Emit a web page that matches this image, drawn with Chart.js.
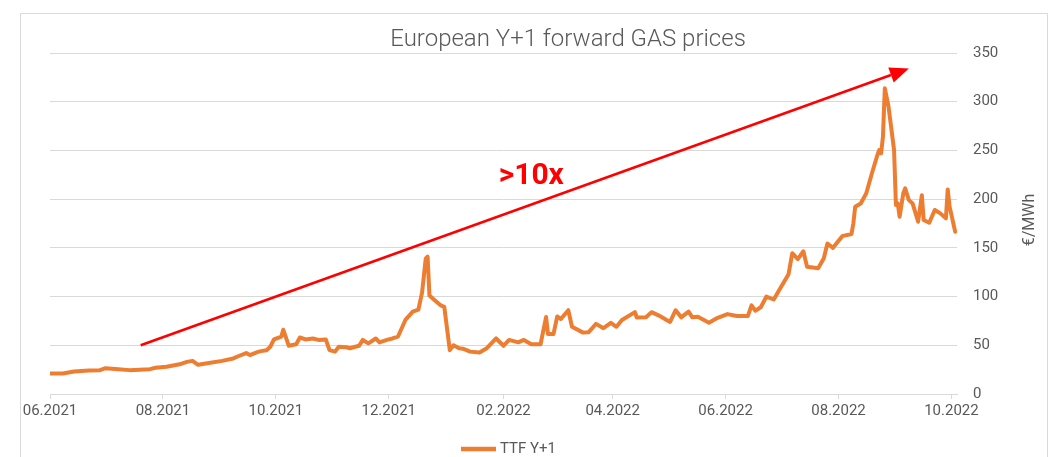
<!DOCTYPE html>
<html><head><meta charset="utf-8">
<script src="https://cdn.jsdelivr.net/npm/chart.js@4/dist/chart.umd.min.js"></script>
<style>html,body{margin:0;padding:0;background:#fff}canvas{display:block}</style>
</head><body>
<canvas id="c" width="1053" height="457"></canvas>
<script>
const chartTitle = 'European Y+1 forward GAS prices';
const seriesLabel = 'TTF Y+1';
const yAxisTitle = '€/MWh';
const annotationText = '>10x';

const dates = [
'2021-06-01','2021-06-08','2021-06-14','2021-06-22','2021-06-28','2021-07-01','2021-07-08','2021-07-14','2021-07-25','2021-07-28',
'2021-08-03','2021-08-10','2021-08-14','2021-08-17','2021-08-20','2021-08-25','2021-09-02','2021-09-08','2021-09-11','2021-09-15',
'2021-09-17','2021-09-21','2021-09-23','2021-09-26','2021-09-28','2021-09-30','2021-10-04','2021-10-05','2021-10-07','2021-10-08',
'2021-10-12','2021-10-14','2021-10-17','2021-10-21','2021-10-24','2021-10-28','2021-10-30','2021-11-02','2021-11-04','2021-11-08',
'2021-11-10','2021-11-15','2021-11-17','2021-11-20','2021-11-24','2021-11-26','2021-11-30','2021-12-03','2021-12-06','2021-12-08',
'2021-12-10','2021-12-14','2021-12-17','2021-12-19','2021-12-21','2021-12-22','2021-12-23','2021-12-26','2021-12-29','2021-12-31',
'2022-01-03','2022-01-05','2022-01-08','2022-01-10','2022-01-14','2022-01-19','2022-01-23','2022-01-28','2022-02-01','2022-02-04',
'2022-02-09','2022-02-12','2022-02-16','2022-02-21','2022-02-24','2022-02-25','2022-02-28','2022-03-02','2022-03-04','2022-03-08',
'2022-03-10','2022-03-16','2022-03-19','2022-03-23','2022-03-27','2022-03-31','2022-04-03','2022-04-06','2022-04-13','2022-04-14',
'2022-04-19','2022-04-22','2022-04-26','2022-05-01','2022-05-02','2022-05-05','2022-05-08','2022-05-12','2022-05-14','2022-05-17',
'2022-05-23','2022-05-27','2022-06-02','2022-06-07','2022-06-13','2022-06-15','2022-06-17','2022-06-20','2022-06-23','2022-06-27',
'2022-07-01','2022-07-05','2022-07-07','2022-07-10','2022-07-13','2022-07-15','2022-07-21','2022-07-24','2022-07-26','2022-07-29',
'2022-08-03','2022-08-08','2022-08-09','2022-08-10','2022-08-13','2022-08-16','2022-08-19','2022-08-22','2022-08-23','2022-08-24',
'2022-08-25','2022-08-26','2022-08-28','2022-08-31','2022-09-01','2022-09-02','2022-09-03','2022-09-05','2022-09-06','2022-09-08',
'2022-09-10','2022-09-13','2022-09-15','2022-09-16','2022-09-19','2022-09-22','2022-09-25','2022-09-28','2022-09-29','2022-09-30',
'2022-10-03'
];
const prices = [
21,21,23,24,24.5,26.5,25.5,24.5,25.5,27,
28,30.5,33,34,30,31.5,34,36.5,39,42,
40,43,44,45,48.5,56,59,66,55,49.5,
51,58,56,57,55.5,56,45,43.5,48.5,48,
47,49.5,55.5,52,57,53,55.5,57,59,67.5,
76,84.5,86.5,104,139,141,101,96,91,89.5,
45,50,47,46.5,43.5,42.5,47,57,49.5,55.5,
53,55.5,51,51,79,61.5,61.5,79.5,77,86,
69,63,63.5,72,67.5,73,69,76,84,78.5,
78.7,84,80.5,75,74,86,78.7,84.5,78.7,79.3,
73.2,77.6,82,80,80,91,85.5,89,100,97,
110,123,144.5,138.5,146.5,130.5,129,139,154.5,150,
162,164.2,175,192.3,195.6,206,226.4,245.3,250.4,247,
264,313.8,295,250.4,194,195.6,182,206,211,199,
195.6,176.8,204,178.6,175.8,188.9,185.4,180.3,210,192.3,
166.6
];
const tickDates = ['2021-06-01','2021-08-01','2021-10-01','2021-12-01','2022-02-01','2022-04-01','2022-06-01','2022-08-01','2022-10-01'];
const tickLabels = ['06.2021','08.2021','10.2021','12.2021','02.2022','04.2022','06.2022','08.2022','10.2022'];
const axisStartDate = '2021-06-01';
const axisEndDate = '2022-10-04';
const yMin = 0, yMax = 350, yStep = 50;

const arrowStart = ['2021-07-20', 50];
const arrowEnd = ['2022-09-08', 334];
const annotationAt = ['2022-02-16', 223];

const FONT = "Roboto, 'DejaVu Sans', sans-serif";
const ORANGE = '#ED7D31';
const GREY_TEXT = '#595959';
const GRID = '#d9d9d9';

const origin = (() => { const [y,m,d] = axisStartDate.split('-').map(Number); return Date.UTC(y,m-1,d); })();
function dayOf(s){ const [y,m,d] = s.split('-').map(Number); return Math.round((Date.UTC(y,m-1,d)-origin)/86400000); }

const points = dates.map((d,i) => ({x: dayOf(d), y: prices[i]}));

const overlay = {
  id: 'overlay',
  beforeDraw(chart){
    const c = chart.ctx; c.save(); c.fillStyle = '#fff'; c.fillRect(0,0,chart.width,chart.height); c.restore();
  },
  afterDraw(chart){
    const ctx = chart.ctx, xs = chart.scales.x, ys = chart.scales.y;
    ctx.save();
    // frame
    ctx.strokeStyle = GRID; ctx.lineWidth = 1;
    ctx.beginPath(); ctx.moveTo(20.5, chart.height); ctx.lineTo(20.5, 13.5); ctx.lineTo(1047.5, 13.5); ctx.lineTo(1047.5, chart.height); ctx.stroke();
    // title
    ctx.fillStyle = GREY_TEXT; ctx.font = '300 24px ' + FONT; ctx.textAlign = 'center'; ctx.textBaseline = 'alphabetic';
    ctx.fillText(chartTitle, 568, 46);
    // y axis title (rotated)
    ctx.save(); ctx.translate(1030, 220); ctx.rotate(-Math.PI/2);
    ctx.font = '16px ' + FONT; ctx.textAlign = 'center'; ctx.textBaseline = 'middle'; ctx.fillStyle = GREY_TEXT;
    ctx.fillText(yAxisTitle, 0, 0); ctx.restore();
    // legend
    const ds = chart.data.datasets[0];
    ctx.strokeStyle = ds.borderColor; ctx.lineWidth = 4.5; ctx.lineCap = 'butt';
    ctx.beginPath(); ctx.moveTo(461, 449); ctx.lineTo(496, 449); ctx.stroke();
    ctx.font = '15px ' + FONT; ctx.textAlign = 'left'; ctx.textBaseline = 'middle'; ctx.fillStyle = GREY_TEXT;
    ctx.fillText(ds.label, 500, 449);
    // arrow
    const x1 = xs.getPixelForValue(dayOf(arrowStart[0])), y1 = ys.getPixelForValue(arrowStart[1]);
    const x2 = xs.getPixelForValue(dayOf(arrowEnd[0])), y2 = ys.getPixelForValue(arrowEnd[1]);
    const ang = Math.atan2(y2-y1, x2-x1), hl = 19, hw = 8;
    const bx = x2 - hl*Math.cos(ang), by = y2 - hl*Math.sin(ang);
    ctx.strokeStyle = '#FF0000'; ctx.fillStyle = '#FF0000'; ctx.lineWidth = 2.5;
    ctx.beginPath(); ctx.moveTo(x1, y1); ctx.lineTo(bx, by); ctx.stroke();
    ctx.beginPath(); ctx.moveTo(x2, y2);
    ctx.lineTo(bx + hw*Math.sin(ang), by - hw*Math.cos(ang));
    ctx.lineTo(bx - hw*Math.sin(ang), by + hw*Math.cos(ang));
    ctx.closePath(); ctx.fill();
    // annotation text
    ctx.font = 'bold 30px ' + FONT; ctx.textAlign = 'center'; ctx.textBaseline = 'middle'; ctx.fillStyle = '#FF0000';
    ctx.fillText(annotationText, xs.getPixelForValue(dayOf(annotationAt[0])), ys.getPixelForValue(annotationAt[1]));
    ctx.restore();
  }
};

new Chart(document.getElementById('c'), {
  type: 'line',
  data: { datasets: [{ label: seriesLabel, data: points, borderColor: ORANGE, backgroundColor: ORANGE, borderWidth: 4, borderJoinStyle: 'round', borderCapStyle: 'round', pointRadius: 0, tension: 0, fill: false }] },
  options: {
    responsive: false, animation: false, devicePixelRatio: 1,
    layout: { padding: { left: 50, right: 16, top: 53, bottom: 23 } },
    plugins: { legend: { display: false }, title: { display: false }, tooltip: { enabled: false } },
    scales: {
      x: {
        type: 'linear', min: dayOf(axisStartDate), max: dayOf(axisEndDate),
        afterBuildTicks: s => { s.ticks = tickDates.map(d => ({ value: dayOf(d) })); },
        afterFit: s => { s.height = 40; },
        ticks: { autoSkip: false, maxRotation: 0, padding: 3, color: GREY_TEXT, font: { family: FONT, size: 15 }, callback: (v, i) => tickLabels[i] },
        grid: { drawOnChartArea: false, tickLength: 5, color: GRID },
        border: { color: GRID }
      },
      y: {
        position: 'right', min: yMin, max: yMax,
        afterFit: s => { s.width = 80; },
        ticks: { stepSize: yStep, padding: 16, color: GREY_TEXT, font: { family: FONT, size: 15 } },
        grid: { drawTicks: false, color: GRID },
        border: { display: false }
      }
    }
  },
  plugins: [overlay]
});
</script>
</body></html>
